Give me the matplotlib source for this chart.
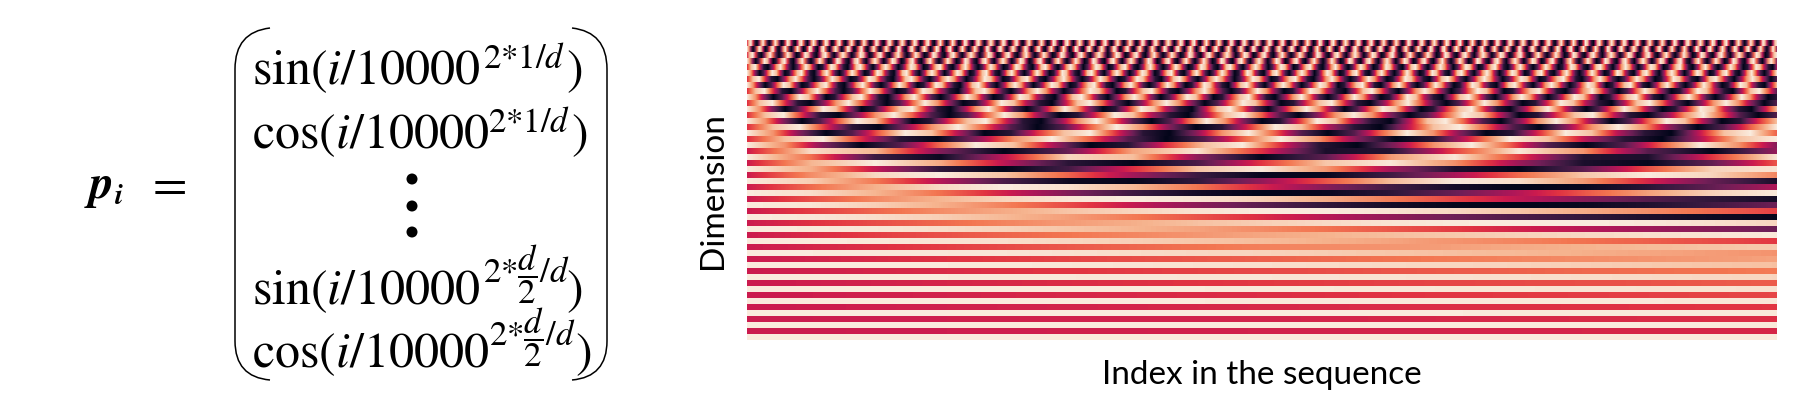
import numpy as np
import matplotlib
matplotlib.use('Agg')
import matplotlib.pyplot as plt
from matplotlib.colors import LinearSegmentedColormap
from matplotlib.patches import Circle, PathPatch
from matplotlib.path import Path

# Estimated row by row from the reference, top to bottom. Every row runs evenly
# across the full width. The fast rows are too fine to read pixel by pixel, so
# their samples were hand-written from the period and phase seen in the picture.
# 0-9 digits: 0 = darkest, 9 = lightest
sin_fast = [
    ("58951037962026973015984104896203797302698401"
     "58951037962026973015984104896203797302698401"
     "58951037962026973015984104896203797302698401"
     "58951037962026973015984104896203797302698401"
     "58951037962026973015984104896203797302698401"
     "58951037962026973015984104896203797302698401"
     "58951037962026973015984104896203797302698401"
     "58951037962026973015984104896203797302698401"
     "58951037962026973015984104896203797302698401"
     "58951037962026973015984104896203797302698401"
     "58951037962026973015984104896203797302698401"
     "5895103796202697301598410489"),
    ("58951037962026973015984104896203797302698401"
     "58951037962026973015984104896203797302698401"
     "58951037962026973015984104896203797302698401"
     "58951037962026973015984104896203797302698401"
     "58951037962026973015984104896203797302698401"
     "58951037962026973015984104896203797302698401"
     "58951037962026973015984104896203797302698401"
     "58951037962026973015984104896203797302698401"
     "589"),
    ("58951037962026973015984104896203797302698401"
     "58951037962026973015984104896203797302698401"
     "58951037962026973015984104896203797302698401"
     "58951037962026973015984104896203797302698401"
     "58951037962026973015984104896203797302698401"
     "58951037962026973015984104"),
    ("58951037962026973015984104896203797302698401"
     "58951037962026973015984104896203797302698401"
     "58951037962026973015984104896203797302698401"
     "58951037962026973015984104896203797302"),
    ("58951037962026973015984104896203797302698401"
     "58951037962026973015984104896203797302698401"
     "589510379620269730159841048962"),
    ("58951037962026973015984104896203797302698401"
     "58951037962026973015984104896203797302"),
    ("58951037962026973015984104896203797302698401"
     "5895103796202"),
    "5895103796202697301598410489620379730269",
    "5895103796202697301598410489",
]
cos_fast = [
    ("97302698401589510379620269730159841048962037"
     "97302698401589510379620269730159841048962037"
     "97302698401589510379620269730159841048962037"
     "97302698401589510379620269730159841048962037"
     "97302698401589510379620269730159841048962037"
     "97302698401589510379620269730159841048962037"
     "97302698401589510379620269730159841048962037"
     "97302698401589510379620269730159841048962037"
     "97302698401589510379620269730159841048962037"
     "97302698401589510379620269730159841048962037"
     "97302698401589510379620269730159841048962037"
     "9730269840158951037962026973"),
    ("97302698401589510379620269730159841048962037"
     "97302698401589510379620269730159841048962037"
     "97302698401589510379620269730159841048962037"
     "97302698401589510379620269730159841048962037"
     "97302698401589510379620269730159841048962037"
     "97302698401589510379620269730159841048962037"
     "97302698401589510379620269730159841048962037"
     "97302698401589510379620269730159841048962037"
     "973"),
    ("97302698401589510379620269730159841048962037"
     "97302698401589510379620269730159841048962037"
     "97302698401589510379620269730159841048962037"
     "97302698401589510379620269730159841048962037"
     "97302698401589510379620269730159841048962037"
     "97302698401589510379620269"),
    ("97302698401589510379620269730159841048962037"
     "97302698401589510379620269730159841048962037"
     "97302698401589510379620269730159841048962037"
     "97302698401589510379620269730159841048"),
    ("97302698401589510379620269730159841048962037"
     "97302698401589510379620269730159841048962037"
     "973026984015895103796202697301"),
    ("97302698401589510379620269730159841048962037"
     "97302698401589510379620269730159841048"),
    ("97302698401589510379620269730159841048962037"
     "9730269840158"),
    "9730269840158951037962026973015984104896",
    "9730269840158951037962026973",
]

# slower rows, -1 darkest to 1 lightest
sin_slow = [
    [0, .92, .73, -.34, -1, -.46, .64, .96, .13, -.86, -.81, .21, .98, .57, -.53, -.99, -.25],
    [0, .72, 1, .67, -.07, -.77, -.99, -.61, .15, .81, .98, .55, -.22, -.85, -.97, -.49, .29],
    [0, .53, .90, 1, .79, .35, -.19, -.68, -.97, -.96, -.66, -.17, .38, .81, 1, .88, .50],
    [0, .38, .70, .91, 1, .94, .74, .43, .06, -.32, -.65, -.89, -1, -.96, -.78, -.49, -.13],
    [0, .26, .51, .72, .88, .97, 1, .96, .85, .68, .46, .21, -.05, -.31, -.55, -.75, -.90],
    [0, .18, .36, .53, .67, .80, .89, .96, 1, 1, .96, .90, .80, .68, .54, .37, .20],
    [0, .13, .25, .37, .49, .60, .69, .78, .85, .91, .96, .99, 1, 1, .98, .94, .89],
    [0, .18, .35, .50, .65, .77, .87, .94, .99],
    [0, .24, .47, .67, .83],
    [0, .17, .33, .49, .63],
    [0, .12, .23, .34, .45],
    [0, .08, .16, .24, .32],
    [0, .06, .11, .17, .22],
    [0, .04, .08, .12, .15],
    [0, .03, .05, .08, .11],
    [0, .02, .04, .06, .07],
]
cos_slow = [
    [1, .40, -.68, -.94, -.06, .89, .77, -.28, -.99, -.51, .59, .98, .19, -.82, -.85, .15, .97],
    [1, .69, -.04, -.75, -1, -.64, .11, .79, .99, .58, -.18, -.84, -.98, -.52, .26, .87, .96],
    [1, .85, .44, -.10, -.61, -.94, -.98, -.73, -.26, .29, .75, .99, .93, .59, .07, -.47, -.86],
    [1, .93, .72, .41, .03, -.35, -.67, -.90, -1, -.95, -.76, -.46, -.10, .29, .62, .87, .99],
    [1, .97, .86, .70, .48, .24, -.03, -.29, -.53, -.74, -.89, -.98, -1, -.95, -.83, -.66, -.44],
    [1, .98, .93, .85, .74, .61, .45, .28, .10, -.09, -.27, -.44, -.60, -.73, -.85, -.93, -.98],
    [1, .99, .97, .93, .87, .80, .72, .63, .52, .41, .29, .17, .04, -.09, -.21, -.33, -.45],
    [1, .99, .94, .86, .76, .64, .49, .33, .16],
    [1, .97, .88, .74, .56],
    [1, .99, .94, .88, .78],
    [1, .99, .97, .94, .89],
    [1, 1, .99, .97, .95],
    [1, 1, .99, .99, .98],
    [1, 1, 1, .99, .99],
    [1, 1, 1, 1, .99],
    [1, 1, 1, 1, 1],
]

x_label = 'Index in the sequence'
y_label = 'Dimension'
matrix_base = [r'$\mathrm{sin}(i/10000$', r'$\mathrm{cos}(i/10000$',
               r'$\mathrm{sin}(i/10000$', r'$\mathrm{cos}(i/10000$']
matrix_exp = [r'$2{*}1/d$', r'$2{*}1/d$',
              r'$2{*}\dfrac{d}{2}/d$', r'$2{*}\dfrac{d}{2}/d$']

# close to seaborn rocket
rocket = LinearSegmentedColormap.from_list(
    'rocket_ish', [(0, '#03051a'), (1/7, '#35193e'), (2/7, '#701f57'),
                   (3/7, '#ad1759'), (0.5, '#cb1b4f'), (4/7, '#e13342'),
                   (5/7, '#f37651'), (6/7, '#f6b48f'), (1, '#faebdd')])

W, H = 1820, 402
plt.rcParams['mathtext.fontset'] = 'stix'
plt.rcParams['font.family'] = ['Lato', 'DejaVu Sans']
fig = plt.figure(figsize=(W/100, H/100), dpi=100)


def digits(s):
    return np.array([int(c) for c in s])/9*2 - 1


rows = []
for s, c in zip(sin_fast, cos_fast):
    rows += [digits(s), digits(c)]
for s, c in zip(sin_slow, cos_slow):
    rows += [np.array(s, float), np.array(c, float)]

# Heatmap
ax = fig.add_axes([747/W, 1 - 341/H, 1030/W, 300/H])
n_cols = 512
for r, vals in enumerate(rows):
    step = (n_cols - 1)/(len(vals) - 1)
    ax.imshow(vals[None, :], cmap=rocket, vmin=-1, vmax=1, aspect='auto',
              interpolation='bilinear',
              extent=(-step/2, n_cols - 1 + step/2, r + 1, r))
ax.set_xlim(0, n_cols - 1)
ax.set_ylim(len(rows), 0)
ax.set_xticks([])
ax.set_yticks([])
for sp in ax.spines.values():
    sp.set_visible(False)
ax.set_xlabel(x_label, fontsize=24, labelpad=14)
ax.set_ylabel(y_label, fontsize=24, labelpad=14)

# Formula, in pixel coordinates
ov = fig.add_axes([0, 0, 1, 1], zorder=-1)
ov.set_xlim(0, W)
ov.set_ylim(H, 0)
ov.axis('off')

ov.text(84, 198, r'$\mathbfit{p}$', fontsize=34, ha='left', va='baseline')
ov.text(114, 204, r'$\mathbfit{i}$', fontsize=21, ha='left', va='baseline')
ov.text(166, 198, r'$=$', fontsize=36, ha='center', va='baseline')

base_y = [84, 148, 304, 367]
exp_y = [68, 132, 283, 346]
exp_x = [483, 488, 483, 489]
close_x = [566, 571, 566, 575]
for txt, ex, y, yy, xx, cx in zip(matrix_base, matrix_exp, base_y, exp_y, exp_x, close_x):
    ov.text(252, y, txt, fontsize=36, ha='left', va='baseline')
    ov.text(xx, yy, ex, fontsize=25, ha='left', va='baseline')
    ov.text(cx, y, r'$)$', fontsize=36, ha='left', va='baseline')
for y in [180, 207, 233]:
    ov.add_patch(Circle((412, y), 5.5, color='black', lw=0))

codes = [Path.MOVETO, Path.CURVE3, Path.CURVE3, Path.LINETO, Path.CURVE3, Path.CURVE3]
left = [(270, 29), (235, 33), (235, 70), (235, 342), (235, 378), (270, 381)]
right = [(572, 29), (607, 33), (607, 70), (607, 342), (607, 378), (572, 381)]
for pts in (left, right):
    ov.add_patch(PathPatch(Path(pts, codes), fc='none', ec='black', lw=1.1))

fig.savefig('out.png', dpi=100, facecolor='white')
